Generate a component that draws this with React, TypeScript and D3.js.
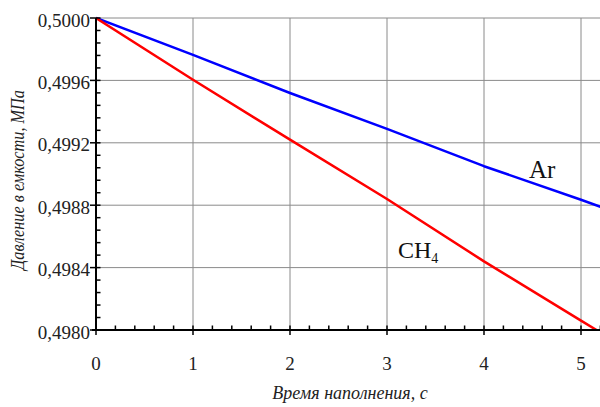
import React from "react";
import * as d3 from "d3";

const times = [0, 1, 2, 3, 4, 5, 5.2];
const arValues = [0.5, 0.499764, 0.499519, 0.499289, 0.49905, 0.498835, 0.49879];
const ch4Values = [0.5, 0.499604, 0.49922, 0.49884, 0.49844, 0.49806, 0.497985];
const xTicks = [0, 1, 2, 3, 4, 5];
const yTicks = [0.498, 0.4984, 0.4988, 0.4992, 0.4996, 0.5];
const yLabel = "Давление в емкости, МПа";
const xLabel = "Время наполнения, с";

const W = 600;
const H = 407;
const L = 96;
const T = 18;
const B = 330;
const R = 600.4;

const FONT = '"Liberation Serif", "DejaVu Serif", "Times New Roman", serif';

export default function App() {
  const x = d3.scaleLinear().domain([0, 5.2]).range([L, R]);
  const y = d3.scaleLinear().domain([0.498, 0.5]).range([B, T]);
  const line = d3
    .line<number>()
    .x((_, i) => x(times[i]))
    .y((d) => y(d));
  const xMinor = d3.range(0, 5.2001, 0.2).filter((v) => Math.abs(v - Math.round(v)) > 1e-6);
  const yMinor = d3
    .range(0.498, 0.50001, 0.00008)
    .filter((v) => !yTicks.some((t) => Math.abs(t - v) < 1e-7));
  const fmt = (v: number) => v.toFixed(4).replace(".", ",");
  const ts = { fontFamily: FONT } as React.CSSProperties;
  return (
    <svg
      width={W}
      height={H}
      style={{ position: "absolute", left: 0, top: 0, background: "#fff", fontFamily: FONT }}
    >
      <defs>
        <clipPath id="plot">
          <rect x={L} y={T - 2} width={R - L + 2} height={B - T + 3} />
        </clipPath>
      </defs>
      {xTicks.filter((t) => t > 0).map((t) => (
        <line key={"gx" + t} x1={x(t)} x2={x(t)} y1={T} y2={B} stroke="#8a8a8a" strokeWidth={1} />
      ))}
      {yTicks.filter((t) => t > 0.498).map((t) => (
        <line key={"gy" + t} x1={L} x2={W} y1={y(t)} y2={y(t)} stroke="#8a8a8a" strokeWidth={1} />
      ))}
      <g clipPath="url(#plot)">
        <path d={line(arValues) || ""} fill="none" stroke="#0000ff" strokeWidth={2.5} strokeLinejoin="round" />
        <path d={line(ch4Values) || ""} fill="none" stroke="#ff0000" strokeWidth={2.5} strokeLinejoin="round" />
      </g>
      <line x1={L} x2={L} y1={T} y2={B + 1} stroke="#000" strokeWidth={2} />
      <line x1={L - 4} x2={W} y1={B} y2={B} stroke="#000" strokeWidth={2} />
      {xMinor.map((t, i) => (
        <line key={"xm" + i} x1={x(t)} x2={x(t)} y1={B} y2={B - 4.5} stroke="#000" strokeWidth={1.5} />
      ))}
      {xTicks.map((t) => (
        <line key={"xt" + t} x1={x(t)} x2={x(t)} y1={B - 4.5} y2={B + 5} stroke="#000" strokeWidth={1.5} />
      ))}
      {yMinor.map((t, i) => (
        <line key={"ym" + i} x1={L} x2={L + 4.5} y1={y(t)} y2={y(t)} stroke="#000" strokeWidth={1.5} />
      ))}
      {yTicks.map((t) => (
        <line key={"yt" + t} x1={L - 6} x2={L + 4.5} y1={y(t)} y2={y(t)} stroke="#000" strokeWidth={1.5} />
      ))}
      {xTicks.map((t) => (
        <text key={"xl" + t} x={x(t)} y={370} fontSize={19} textAnchor="middle" fill="#222" style={ts}>
          {t}
        </text>
      ))}
      {yTicks.map((t) => (
        <text key={"yl" + t} x={L - 6} y={y(t) + 8.5} fontSize={19} textAnchor="end" fill="#222" style={ts}>
          {fmt(t)}
        </text>
      ))}
      <text x={350} y={399} fontSize={18} fontStyle="italic" textAnchor="middle" fill="#222" style={ts}>
        {xLabel}
      </text>
      <text
        transform={`translate(24,180) rotate(-90)`}
        fontSize={18}
        fontStyle="italic"
        textAnchor="middle"
        fill="#222"
        textLength={180}
        lengthAdjust="spacingAndGlyphs"
        style={ts}
      >
        {yLabel}
      </text>
      <text x={529} y={178} fontSize={25} fill="#111" style={ts}>
        Ar
      </text>
      <text x={398} y={258} fontSize={24} fill="#111" style={ts}>
        CH<tspan fontSize={14} dy={5}>4</tspan>
      </text>
    </svg>
  );
}
